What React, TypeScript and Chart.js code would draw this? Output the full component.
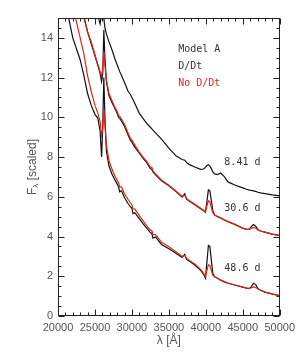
import React, { useEffect, useRef } from "react";
import { Chart, registerables } from "chart.js";

Chart.register(...registerables);

// Wavelength grid (Å)
const wavelength = [
  20000, 21000, 22000, 23000, 23500, 24000, 24500, 25000, 25400, 25700,
  25900, 26050, 26200, 26350, 26550, 26900, 27300, 27700, 28000, 28200,
  28350, 28600, 29000, 29500, 29800, 30000, 30150, 30400, 31000, 31500,
  32000, 32500, 32700, 32850, 33200, 34000, 35000, 36000, 36800, 37150,
  37400, 37800, 38500,
  39300, 39700, 39950, 40150, 40350, 40550, 40750, 40950, 41200, 41600,
  42000, 42500, 43000, 44000, 45000, 45500, 45900, 46150, 46450, 46750,
  47050, 47400, 48000, 49000, 50000,
];

// 8.41 d, D/Dt (black)
const flux841 = [
  34, 28, 23.5, 20, 18.6, 17.4, 16.4, 15.6, 15.1, 14.7,
  15.2, 15.4, 15.0, 14.5, 14.2, 13.8, 13.4, 12.95, 12.65, 12.45,
  12.3, 12.1, 11.75, 11.3, 11.15, 11.0, 10.9, 10.7, 10.2, 9.95,
  9.7, 9.5, 9.42, 9.36, 9.22, 8.9, 8.45, 8.05, 7.88, 7.84,
  7.72, 7.62, 7.5,
  7.38, 7.4, 7.48, 7.58, 7.62, 7.55, 7.42, 7.25, 7.15, 7.12,
  7.2, 7.02, 6.75, 6.58, 6.45, 6.38, 6.34, 6.32, 6.3, 6.27,
  6.23, 6.2, 6.16, 6.1, 6.05,
];

// 30.6 d, D/Dt (black)
const flux306 = [
  30, 24, 19.5, 16.2, 15.1, 14.3, 13.7, 13.1, 12.6, 12.2,
  11.8, 12.2, 14.4, 13.0, 11.8, 11.1, 10.75, 10.45, 10.2, 10.0,
  9.95, 9.8, 9.55, 9.1, 8.85, 8.75, 8.65, 8.5, 8.2, 7.95,
  7.72, 7.42, 7.38, 7.25, 7.1, 6.8, 6.55, 6.25, 5.98, 6.15,
  5.88, 5.78, 5.6,
  5.4, 5.3, 5.22, 5.75, 6.35, 6.3, 5.8, 5.3, 5.08, 5.0,
  4.93, 4.83, 4.75, 4.6, 4.42, 4.36, 4.36, 4.5, 4.6, 4.52,
  4.35, 4.28, 4.22, 4.12, 4.05,
];

// 30.6 d, no D/Dt (red)
const flux306NoD = [
  28, 23, 18.8, 15.9, 15.0, 14.3, 13.8, 13.15, 12.65, 12.3,
  12.1, 12.4, 13.3, 12.6, 11.9, 11.2, 10.85, 10.5, 10.3, 10.1,
  10.05, 9.9, 9.65, 9.2, 8.95, 8.85, 8.75, 8.6, 8.25, 8.0,
  7.78, 7.48, 7.48, 7.3, 7.15, 6.85, 6.58, 6.28, 6.02, 6.08,
  5.9, 5.8, 5.62,
  5.42, 5.32, 5.25, 5.55, 5.8, 5.75, 5.45, 5.2, 5.08, 5.0,
  4.94, 4.84, 4.76, 4.6, 4.42, 4.36, 4.36, 4.42, 4.46, 4.42,
  4.33, 4.28, 4.22, 4.12, 4.05,
];

// 48.6 d, D/Dt (black)
const flux486 = [
  19.5, 15.8, 14.0, 12.9, 12.1, 11.2, 10.6, 10.15, 9.95, 9.3,
  8.0, 9.5, 12.0, 10.0, 8.3, 7.55, 7.15, 6.85, 6.65, 6.5,
  6.25, 6.3, 5.95, 5.65, 5.5, 5.42, 5.15, 5.2, 4.9, 4.65,
  4.42, 4.2, 4.15, 3.92, 3.98, 3.6, 3.38, 3.15, 2.95, 3.1,
  2.85, 2.75, 2.57,
  2.3, 2.1, 1.9, 2.7, 3.55, 3.5, 2.8, 2.15, 1.97, 1.9,
  1.8, 1.72, 1.65, 1.55, 1.45, 1.4, 1.38, 1.48, 1.65, 1.58,
  1.38, 1.3, 1.2, 1.1, 1.02,
];

// 48.6 d, no D/Dt (red)
const flux486NoD = [
  22, 18, 15.6, 14.0, 13.2, 12.1, 11.3, 10.6, 10.2, 9.8,
  9.1, 9.4, 10.4, 9.6, 8.6, 7.8, 7.4, 7.05, 6.85, 6.7,
  6.5, 6.5, 6.15, 5.85, 5.7, 5.6, 5.4, 5.38, 5.05, 4.8,
  4.55, 4.32, 4.3, 4.1, 4.1, 3.72, 3.48, 3.22, 3.0, 3.05,
  2.9, 2.8, 2.62,
  2.35, 2.15, 1.98, 2.3, 2.58, 2.55, 2.3, 2.05, 1.98, 1.9,
  1.82, 1.74, 1.66, 1.56, 1.46, 1.41, 1.39, 1.42, 1.46, 1.43,
  1.36, 1.31, 1.21, 1.11, 1.03,
];

// Axis tick settings
const xTickMin = 20000;
const xTickMax = 50000;
const xMajorStep = 5000;
const xMinorStep = 1000;
const yTickMin = 0;
const yTickMax = 15;
const yMajorStep = 2;
const yMinorStep = 0.5;

// Text annotations [text, λ, F, colour]
const legendLines: [string, number, number, string][] = [
  ["Model A", 36260, 13.43, "#333"],
  ["D/Dt", 36260, 12.58, "#333"],
  ["No D/Dt", 36260, 11.7, "#e3241c"],
];
const epochLabels: [string, number, number][] = [
  ["8.41 d", 42510, 7.71],
  ["30.6 d", 42510, 5.44],
  ["48.6 d", 42510, 2.41],
];

const BLACK = "#111";
const RED = "#e3241c";

export default function App() {
  const ref = useRef<HTMLCanvasElement>(null);

  useEffect(() => {
    document.body.style.margin = "0";
    const canvas = ref.current;
    if (!canvas) return;
    const mk = (ys: number[]) => wavelength.map((x, i) => ({ x, y: ys[i] }));

    const idlPlugin = {
      id: "idlBox",
      afterDraw(chart: any) {
        const { ctx, chartArea: a, scales } = chart;
        const xs = scales.x;
        const ys = scales.y;
        ctx.save();
        ctx.strokeStyle = "#222";
        ctx.lineWidth = 1;
        const L = Math.round(a.left) + 0.5;
        const R = Math.round(a.right) - 0.5;
        const T = Math.round(a.top) + 0.5;
        const B = Math.round(a.bottom) - 0.5;
        ctx.strokeRect(L, T, R - L, B - T);
        ctx.beginPath();
        for (let v = xTickMin; v <= xTickMax + 1; v += xMinorStep) {
          const major = v % xMajorStep === 0;
          const len = major ? 6 : 3;
          const px = Math.round(xs.getPixelForValue(v)) + 0.5;
          ctx.moveTo(px, B);
          ctx.lineTo(px, B - len);
          ctx.moveTo(px, T);
          ctx.lineTo(px, T + len);
        }
        for (let v = yTickMin; v <= yTickMax + 0.001; v += yMinorStep) {
          const major = Math.abs(v % yMajorStep) < 1e-6;
          const len = major ? 6 : 3;
          const py = Math.round(ys.getPixelForValue(v)) + 0.5;
          ctx.moveTo(L, py);
          ctx.lineTo(L + len, py);
          ctx.moveTo(R, py);
          ctx.lineTo(R - len, py);
        }
        ctx.stroke();

        // legend text
        ctx.font = "10px 'DejaVu Sans Mono', monospace";
        ctx.textBaseline = "middle";
        ctx.textAlign = "left";
        legendLines.forEach(([t, lx, ly, c]) => {
          ctx.fillStyle = c;
          ctx.fillText(t, xs.getPixelForValue(lx), ys.getPixelForValue(ly));
        });
        ctx.fillStyle = "#333";
        epochLabels.forEach(([t, lx, ly]) => {
          ctx.fillText(t, xs.getPixelForValue(lx), ys.getPixelForValue(ly));
        });

        // axis titles
        ctx.fillStyle = "#555";
        ctx.font = "12px 'Liberation Sans', Arial, sans-serif";
        ctx.textAlign = "center";
        ctx.textBaseline = "middle";
        ctx.fillText("λ [Å]", (a.left + a.right) / 2, a.bottom + 25);

        ctx.translate(33, (a.top + a.bottom) / 2);
        ctx.rotate(-Math.PI / 2);
        const main = "F";
        const sub = "λ";
        const rest = " [scaled]";
        const subFont = "8px 'Liberation Sans', Arial, sans-serif";
        const mainFont = "12px 'Liberation Sans', Arial, sans-serif";
        ctx.font = mainFont;
        const wMain = ctx.measureText(main).width;
        const wRest = ctx.measureText(rest).width;
        ctx.font = subFont;
        const wSub = ctx.measureText(sub).width;
        const total = wMain + wSub + wRest;
        let cx = -total / 2;
        ctx.textAlign = "left";
        ctx.font = mainFont;
        ctx.fillText(main, cx, 0);
        cx += wMain;
        ctx.font = subFont;
        ctx.fillText(sub, cx, 3);
        cx += wSub;
        ctx.font = mainFont;
        ctx.fillText(rest, cx, 0);
        ctx.restore();
      },
    };

    const chart = new Chart(canvas, {
      type: "line",
      data: {
        datasets: [
          { data: mk(flux306NoD), borderColor: RED },
          { data: mk(flux486NoD), borderColor: RED },
          { data: mk(flux841), borderColor: BLACK },
          { data: mk(flux306), borderColor: BLACK },
          { data: mk(flux486), borderColor: BLACK },
        ].map((d) => ({
          ...d,
          borderWidth: 1.2,
          pointRadius: 0,
          tension: 0,
          fill: false,
        })),
      },
      options: {
        responsive: false,
        animation: false,
        events: [],
        layout: { padding: { top: 18, right: 17, left: 0, bottom: 0 } },
        plugins: {
          legend: { display: false },
          tooltip: { enabled: false },
          title: { display: false },
        },
        scales: {
          x: {
            type: "linear",
            min: xTickMin,
            max: xTickMax,
            grid: { display: false, drawTicks: false },
            border: { display: false },
            ticks: {
              stepSize: xMajorStep,
              includeBounds: false,
              color: "#555",
              padding: 5,
              maxRotation: 0,
              autoSkip: false,
              font: { family: "'Liberation Sans', Arial, sans-serif", size: 11 },
              callback: (v: any) => String(v),
            },
            afterFit: (s: any) => {
              s.height = 37;
            },
          },
          y: {
            type: "linear",
            min: yTickMin,
            max: yTickMax,
            grid: { display: false, drawTicks: false },
            border: { display: false },
            ticks: {
              stepSize: yMajorStep,
              includeBounds: false,
              color: "#555",
              padding: 5,
              autoSkip: false,
              font: { family: "'Liberation Sans', Arial, sans-serif", size: 11 },
              callback: (v: any) => String(v),
            },
            afterFit: (s: any) => {
              s.width = 58;
            },
          },
        },
      },
      plugins: [idlPlugin],
    } as any);

    return () => chart.destroy();
  }, []);

  return (
    <div style={{ width: 300, height: 353 }}>
      <canvas ref={ref} width={300} height={353} style={{ display: "block" }} />
    </div>
  );
}
